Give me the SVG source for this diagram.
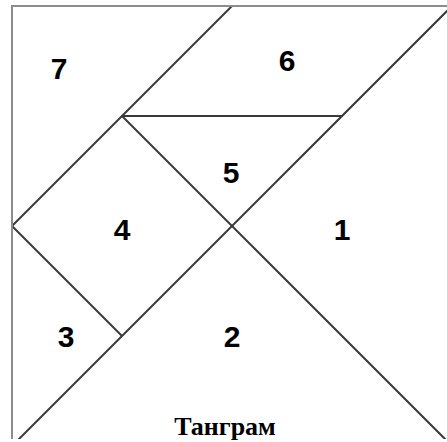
<svg xmlns="http://www.w3.org/2000/svg" width="447" height="442" viewBox="0 0 447 442">
<style>
.border{fill:none;stroke:#8c8c8c;stroke-width:2}
.edge{stroke:#3a3a3a;stroke-width:2;fill:none}
.lbl{font-family:"Liberation Sans",Arial,sans-serif;font-weight:bold;font-size:30px;fill:#000;text-anchor:middle}
.cap{font-family:"Liberation Serif","Times New Roman",serif;font-weight:bold;font-size:26px;fill:#000;text-anchor:middle}
</style>
<rect width="447" height="442" fill="#fff"/>
<g id="connectors">
<line class="edge" x1="12" y1="226" x2="232" y2="6"/>
<line class="edge" x1="122" y1="116" x2="342" y2="116"/>
<line class="edge" x1="122" y1="116" x2="452" y2="446"/>
<line class="edge" x1="12" y1="226" x2="122" y2="336"/>
<line class="edge" x1="12" y1="446" x2="452" y2="6"/>
</g>
<rect class="border" x="12" y="6" width="440" height="440"/>
<rect x="0" y="439" width="447" height="3" fill="#fff"/>
<g id="piece7"><text class="lbl" x="59" y="79">7</text></g>
<g id="piece6"><text class="lbl" x="287" y="71">6</text></g>
<g id="piece5"><text class="lbl" x="231" y="183">5</text></g>
<g id="piece4"><text class="lbl" x="122" y="240">4</text></g>
<g id="piece1"><text class="lbl" x="342" y="240">1</text></g>
<g id="piece3"><text class="lbl" x="66" y="347">3</text></g>
<g id="piece2"><text class="lbl" x="232" y="347">2</text></g>
<g id="caption"><text class="cap" x="225" y="435">Танграм</text></g>
</svg>
